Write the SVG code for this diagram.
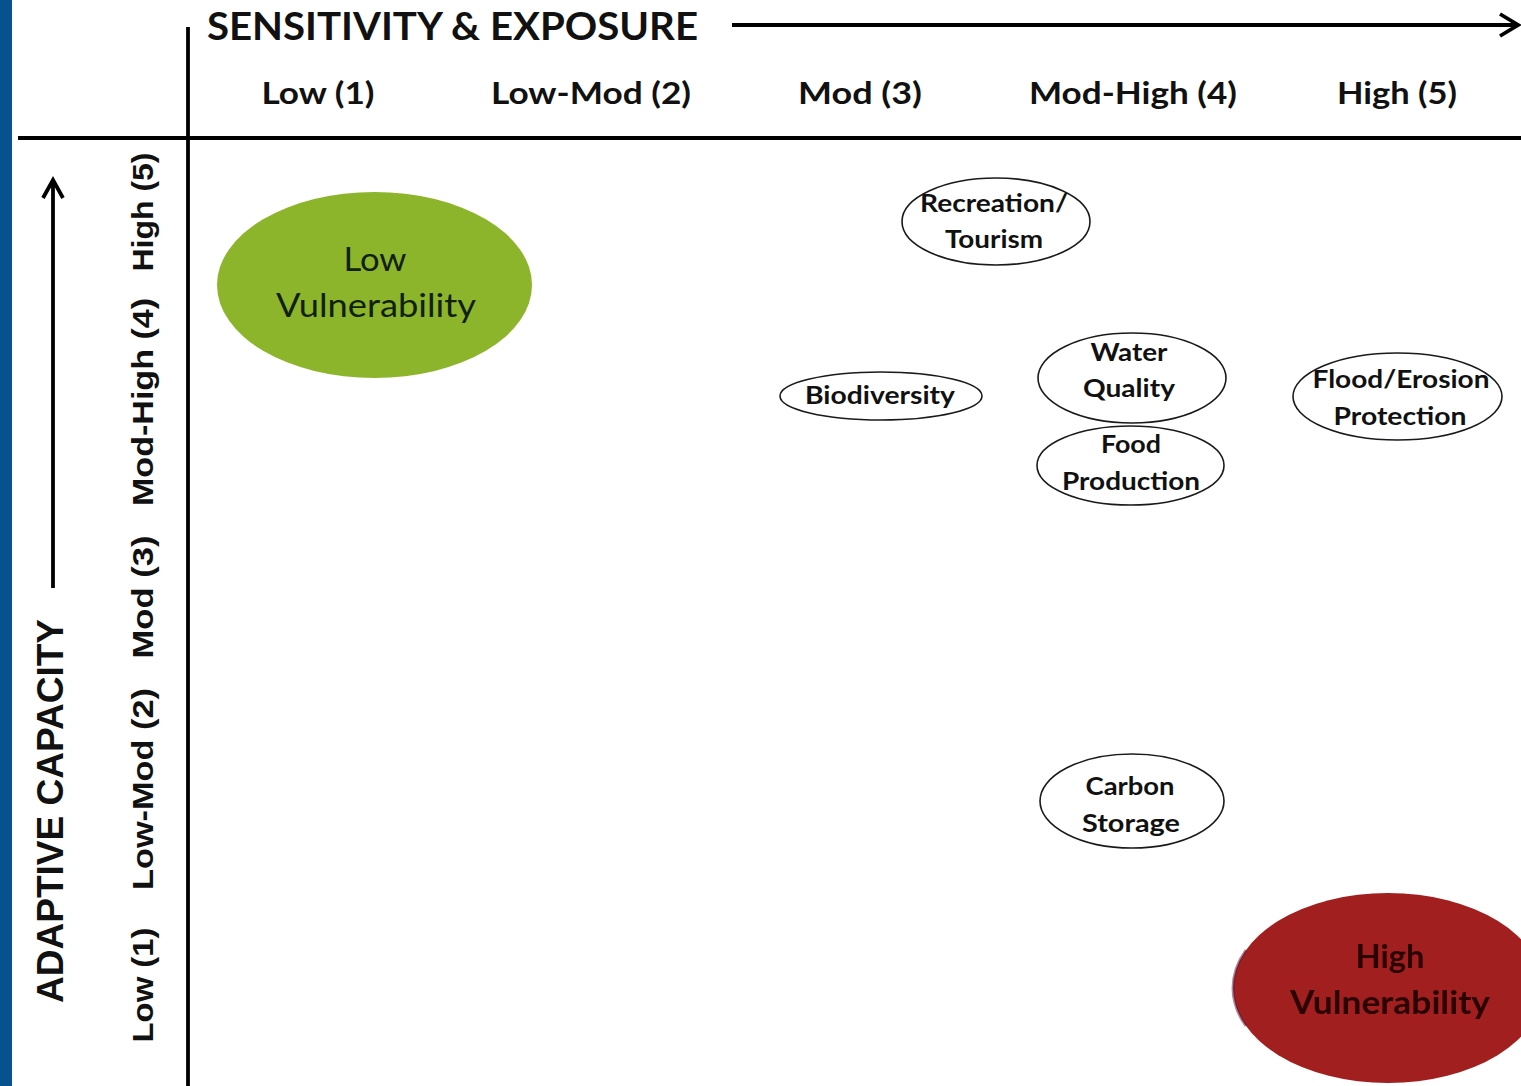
<svg xmlns="http://www.w3.org/2000/svg" width="1521" height="1086" viewBox="0 0 1521 1086">
  <style>
    .axis { stroke: #000; stroke-width: 3.8; fill: none; }
    .head { stroke: #000; stroke-width: 3.8; fill: none; stroke-linejoin: miter; stroke-linecap: butt; }
    .title { font-family: Lato, "Open Sans", sans-serif; font-weight: 700; font-size: 39px; fill: #111; }
    .col { font-family: Lato, "Open Sans", sans-serif; font-weight: 700; font-size: 31px; fill: #111; text-anchor: middle; }
    .vtitle { font-family: "Liberation Sans", Arial, sans-serif; font-weight: 700; font-size: 37px; fill: #111; text-anchor: middle; }
    .row { font-family: "Liberation Sans", Arial, sans-serif; font-weight: 700; font-size: 30px; fill: #111; text-anchor: middle; }
    .node ellipse { fill: none; stroke: #1a1a1a; stroke-width: 1.6; }
    .node text { font-family: Lato, "Open Sans", sans-serif; font-weight: 700; font-size: 25px; fill: #111; text-anchor: middle; }
    .zone text { font-family: Lato, "Open Sans", sans-serif; font-size: 32px; text-anchor: middle; }
  </style>
  <defs>
    <filter id="soft" x="-10%" y="-10%" width="120%" height="120%">
      <feGaussianBlur stdDeviation="0.6"/>
    </filter>
  </defs>

  <!-- page background and left band -->
  <rect x="0" y="0" width="1521" height="1086" fill="#ffffff"/>
  <rect x="0" y="0" width="12" height="1086" fill="#07528e"/>

  <!-- axes and direction arrows -->
  <g id="connectors">
    <line class="axis" x1="188" y1="27" x2="188" y2="1086"/>
    <line class="axis" x1="18" y1="138" x2="1521" y2="138" style="stroke-width:4"/>
    <line class="axis" x1="732" y1="25" x2="1517" y2="25"/>
    <polyline class="head" points="1500,14 1518,25 1500,36"/>
    <line class="axis" x1="53" y1="588" x2="53" y2="181"/>
    <polyline class="head" points="43,198 53,180 63,198"/>
  </g>

  <!-- horizontal axis labels -->
  <g id="x-axis-labels">
    <text class="title" x="207" y="40" textLength="491" lengthAdjust="spacingAndGlyphs">SENSITIVITY &amp; EXPOSURE</text>
    <text class="col" x="318" y="104" textLength="113" lengthAdjust="spacingAndGlyphs">Low (1)</text>
    <text class="col" x="591" y="104" textLength="200" lengthAdjust="spacingAndGlyphs">Low-Mod (2)</text>
    <text class="col" x="860" y="104" textLength="124" lengthAdjust="spacingAndGlyphs">Mod (3)</text>
    <text class="col" x="1133" y="104" textLength="208" lengthAdjust="spacingAndGlyphs">Mod-High (4)</text>
    <text class="col" x="1397" y="104" textLength="120" lengthAdjust="spacingAndGlyphs">High (5)</text>
  </g>

  <!-- vertical axis labels -->
  <g id="y-axis-labels">
    <text class="vtitle" x="63" y="811" transform="rotate(-90 63 811)" textLength="384" lengthAdjust="spacingAndGlyphs">ADAPTIVE CAPACITY</text>
    <text class="row" x="153" y="212" transform="rotate(-90 153 212)" textLength="119" lengthAdjust="spacingAndGlyphs">High (5)</text>
    <text class="row" x="153" y="402" transform="rotate(-90 153 402)" textLength="208" lengthAdjust="spacingAndGlyphs">Mod-High (4)</text>
    <text class="row" x="153" y="597" transform="rotate(-90 153 597)" textLength="123" lengthAdjust="spacingAndGlyphs">Mod (3)</text>
    <text class="row" x="153" y="789" transform="rotate(-90 153 789)" textLength="202" lengthAdjust="spacingAndGlyphs">Low-Mod (2)</text>
    <text class="row" x="153" y="985" transform="rotate(-90 153 985)" textLength="115" lengthAdjust="spacingAndGlyphs">Low (1)</text>
  </g>

  <!-- vulnerability zones -->
  <g id="low-vulnerability" class="zone">
    <ellipse cx="374.5" cy="285" rx="157.5" ry="93" fill="#8db52c"/>
    <text x="375" y="271" fill="#10200a" textLength="63" lengthAdjust="spacingAndGlyphs">Low</text>
    <text x="376" y="317" fill="#10200a" textLength="200" lengthAdjust="spacingAndGlyphs">Vulnerability</text>
  </g>
  <g id="high-vulnerability" class="zone">
    <ellipse cx="1388" cy="988" rx="155" ry="95" fill="#a21f1f"/>
    <!-- darker rim on the left side -->
    <path d="M1246,950 A155,95 0 0 0 1246,1026" stroke="#5a1a3a" stroke-width="3" fill="none" opacity="0.5"/>
    <g filter="url(#soft)">
      <text x="1390" y="968" fill="#2a0606" font-weight="700" textLength="69" lengthAdjust="spacingAndGlyphs">High</text>
      <text x="1390" y="1014" fill="#2a0606" font-weight="700" textLength="200" lengthAdjust="spacingAndGlyphs">Vulnerability</text>
    </g>
  </g>

  <!-- ecosystem services -->
  <g id="recreation-tourism" class="node">
    <ellipse cx="996" cy="221.5" rx="94" ry="43.5"/>
    <text x="994" y="212" textLength="148" lengthAdjust="spacingAndGlyphs">Recreation/</text>
    <text x="994" y="248" textLength="98" lengthAdjust="spacingAndGlyphs">Tourism</text>
  </g>
  <g id="biodiversity" class="node">
    <ellipse cx="881" cy="396" rx="101" ry="24"/>
    <text x="880" y="404" textLength="150" lengthAdjust="spacingAndGlyphs">Biodiversity</text>
  </g>
  <g id="water-quality" class="node">
    <ellipse cx="1132" cy="378" rx="94" ry="45"/>
    <text x="1129" y="361" textLength="77" lengthAdjust="spacingAndGlyphs">Water</text>
    <text x="1129" y="397" textLength="92" lengthAdjust="spacingAndGlyphs">Quality</text>
  </g>
  <g id="food-production" class="node">
    <ellipse cx="1130.5" cy="465.5" rx="93.5" ry="39.5"/>
    <text x="1131" y="453" textLength="60" lengthAdjust="spacingAndGlyphs">Food</text>
    <text x="1131" y="490" textLength="138" lengthAdjust="spacingAndGlyphs">Production</text>
  </g>
  <g id="flood-erosion-protection" class="node">
    <ellipse cx="1397.5" cy="396.5" rx="104.5" ry="43.5"/>
    <text x="1401" y="388" textLength="177" lengthAdjust="spacingAndGlyphs">Flood/Erosion</text>
    <text x="1400" y="425" textLength="133" lengthAdjust="spacingAndGlyphs">Protection</text>
  </g>
  <g id="carbon-storage" class="node">
    <ellipse cx="1132" cy="801" rx="92" ry="47"/>
    <text x="1130" y="795" textLength="89" lengthAdjust="spacingAndGlyphs">Carbon</text>
    <text x="1131" y="832" textLength="98" lengthAdjust="spacingAndGlyphs">Storage</text>
  </g>
</svg>
